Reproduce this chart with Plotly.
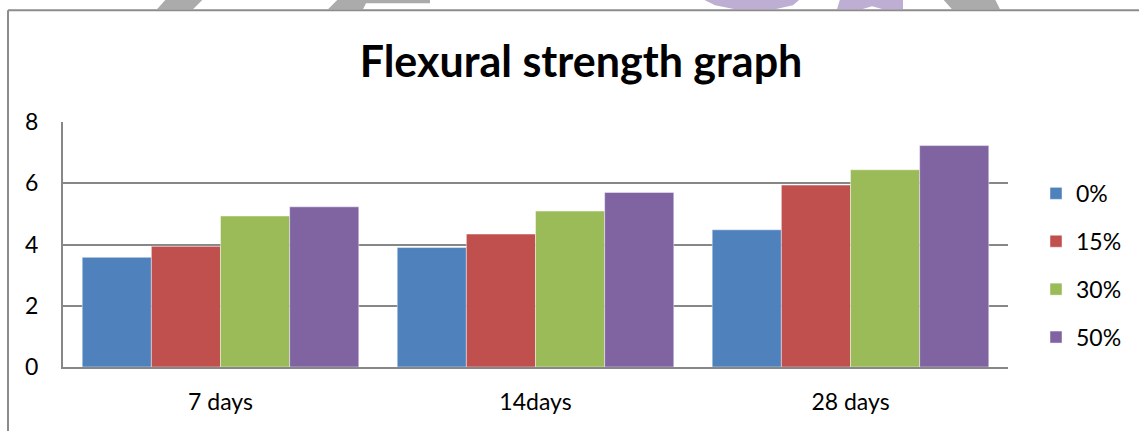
import plotly.graph_objects as go

# Curing ages and replacement levels
categories = ["7 days", "14days", "28 days"]
series_names = ["0%", "15%", "30%", "50%"]
strength_0 = [3.58, 3.90, 4.48]
strength_15 = [3.94, 4.34, 5.94]
strength_30 = [4.93, 5.09, 6.44]
strength_50 = [5.23, 5.70, 7.23]
y_ticks = [0, 2, 4, 6, 8]

colors = ["#4F81BD", "#C0504D", "#9BBB59", "#8064A2"]
FONT = "Lato, 'Open Sans', sans-serif"

W, H = 1139, 431
L, R, T, B = 63, 1008, 122, 367.5


def px(x):
    return (x - L) / (R - L)


def py(y):
    return (B - y) / (B - T)


fig = go.Figure()
for name, vals, col in zip(series_names,
                           [strength_0, strength_15, strength_30, strength_50],
                           colors):
    fig.add_trace(go.Bar(
        x=categories, y=vals, name=name, legendgroup=name,
        marker=dict(color=col, line=dict(color="rgba(255,255,255,0.55)", width=0.8)),
    ))

# Outer chart frame (top and left edges)
shapes = [
    dict(type="line", xref="paper", yref="paper",
         x0=px(8), x1=px(1145), y0=py(10), y1=py(10),
         line=dict(color="#8c8c8c", width=2)),
    dict(type="line", xref="paper", yref="paper",
         x0=px(8), x1=px(8), y0=py(10), y1=py(440),
         line=dict(color="#8c8c8c", width=2)),
]


def poly(points, color):
    path = "M " + " L ".join(f"{px(x)},{py(y)}" for x, y in points) + " Z"
    return dict(type="path", xref="paper", yref="paper", path=path,
                fillcolor=color, line=dict(width=0), layer="below")


# Page decoration strips above the frame
gray = "#ababab"
purple = "#bfaed4"
shapes += [
    poly([(166, -1), (203, -1), (193, 9), (157, 9)], gray),
    poly([(338, -1), (430, -1), (430, 3), (366, 3), (363, 9), (328, 9)], gray),
    poly([(703, -1), (800, -1), (793, 5), (775, 9), (735, 9), (715, 5)], purple),
    poly([(840, -1), (903, -1), (903, 9), (883, 9), (872, 6), (862, 9), (837, 9)], purple),
    poly([(943, -1), (995, -1), (1000, 9), (952, 9)], gray),
]

fig.update_layout(
    width=W, height=H,
    margin=dict(l=L, r=W - R, t=T, b=H - B, pad=0),
    paper_bgcolor="white", plot_bgcolor="white",
    barmode="group", bargap=0.122, bargroupgap=0,
    font=dict(family=FONT, size=23, color="#000000"),
    title=dict(text="<b>Flexural strength graph</b>",
               font=dict(family=FONT, size=43, color="#000000"),
               x=581 / W, xanchor="center", y=1 - 62 / H, yanchor="middle"),
    showlegend=True,
    legend=dict(x=px(1036), xanchor="left", y=py(172), yanchor="top",
                font=dict(family=FONT, size=23), tracegroupgap=15,
                bgcolor="rgba(0,0,0,0)", itemwidth=30),
    shapes=shapes,
    xaxis=dict(showline=True, linecolor="#878787", linewidth=2,
               showgrid=False, ticks="", ticklabelstandoff=13,
               tickfont=dict(family=FONT, size=23)),
    yaxis=dict(range=[0, 8], tickvals=y_ticks, showgrid=True,
               gridcolor="#878787", gridwidth=2, showline=True,
               linecolor="#878787", linewidth=2, zeroline=False,
               ticks="", ticklabelstandoff=18,
               tickfont=dict(family=FONT, size=23)),
)

fig.write_html("out.html")
